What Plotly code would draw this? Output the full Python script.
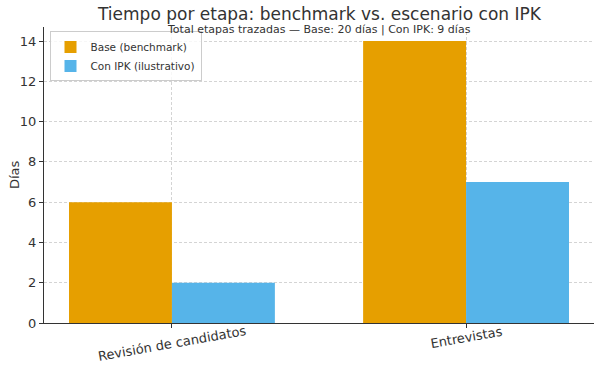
import plotly.graph_objects as go

categories = ["Revisión de candidatos", "Entrevistas"]
base_values = [6, 14]
ipk_values = [2, 7]
series_names = ["Base (benchmark)", "Con IPK (ilustrativo)"]
y_ticks = [0, 2, 4, 6, 8, 10, 12, 14]

FONT = "DejaVu Sans"
TXT = "#333333"

fig = go.Figure()
fig.add_trace(go.Bar(x=categories, y=base_values, name=series_names[0],
                     marker=dict(color="#E69F00", line=dict(width=0))))
fig.add_trace(go.Bar(x=categories, y=ipk_values, name=series_names[1],
                     marker=dict(color="#56B4E9", line=dict(width=0))))

annotations = [
    dict(text="Tiempo por etapa: benchmark vs. escenario con IPK", xref="paper", yref="paper",
         x=0.5, y=1, yshift=13, xanchor="center", yanchor="middle", showarrow=False,
         font=dict(size=17, color=TXT, family=FONT)),
    dict(text="Total etapas trazadas — Base: 20 días | Con IPK: 9 días", xref="paper", yref="paper",
         x=0.5, y=1, yshift=-2, xanchor="center", yanchor="middle", showarrow=False,
         font=dict(size=11, color=TXT, family=FONT)),
    dict(text="Días", xref="paper", yref="paper", x=0, y=0.5, xshift=-30,
         xanchor="center", yanchor="middle", textangle=-90, showarrow=False,
         font=dict(size=13, color=TXT, family=FONT)),
]
for c in categories:
    annotations.append(dict(text=c, xref="x", yref="paper", x=c, y=0, yshift=2,
                            xanchor="center", yanchor="top", textangle=-10, showarrow=False,
                            font=dict(size=13, color=TXT, family=FONT)))

fig.update_layout(
    width=602, height=372,
    margin=dict(l=44, r=8, t=27, b=49, autoexpand=False),
    paper_bgcolor="white", plot_bgcolor="white",
    barmode="group", bargap=0.3, bargroupgap=0,
    font=dict(family=FONT, color=TXT, size=13),
    showlegend=True,
    legend=dict(x=0.01, y=0.985, xanchor="left", yanchor="top",
                bgcolor="rgba(255,255,255,0.8)", bordercolor="#cccccc", borderwidth=1,
                font=dict(size=10.5, color=TXT), tracegroupgap=0, itemwidth=30),
    annotations=annotations,
)
fig.update_xaxes(
    type="category", range=[-0.435, 1.435], automargin=False,
    showgrid=True, gridcolor="#d4d4d4", griddash="3px,2px", gridwidth=0.8,
    showline=True, linecolor=TXT, linewidth=1,
    ticks="outside", ticklen=4, tickcolor=TXT, showticklabels=False,
)
fig.update_yaxes(
    range=[0, 14.7], tickvals=y_ticks, automargin=False,
    showgrid=True, gridcolor="#d4d4d4", griddash="3px,2px", gridwidth=0.8,
    showline=True, linecolor=TXT, linewidth=1, zeroline=False,
    ticks="outside", ticklen=4, tickcolor=TXT,
    tickfont=dict(size=13, color=TXT),
)

fig.write_html("out.html", config={"displayModeBar": False},
               post_script="document.body.style.margin='0';")
